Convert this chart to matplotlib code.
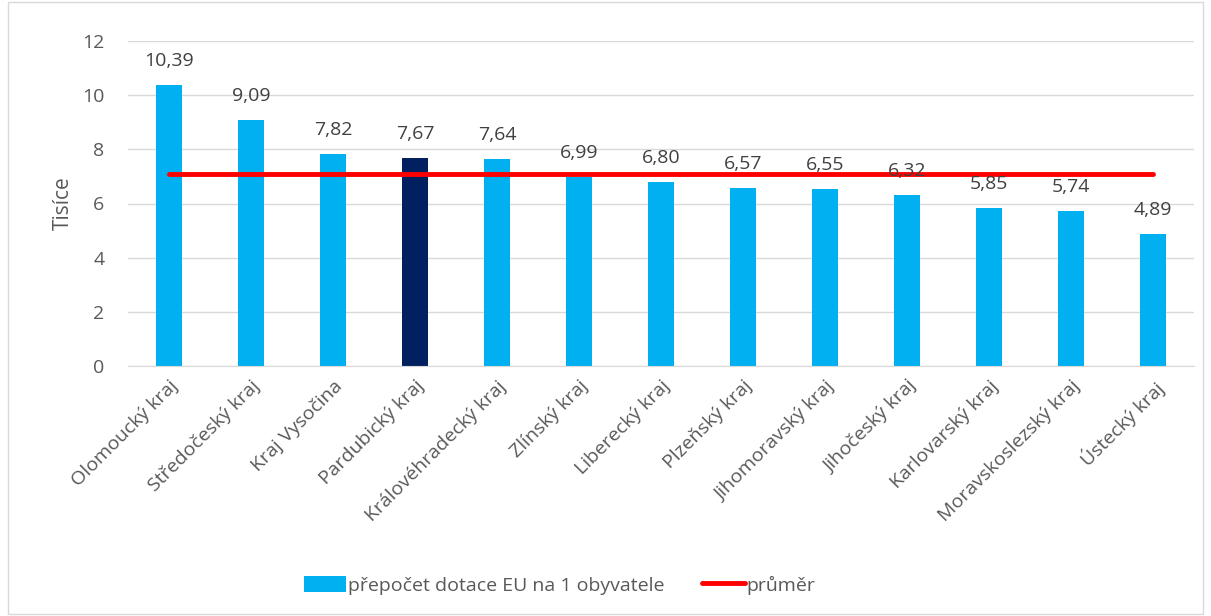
import matplotlib
matplotlib.use("Agg")
import matplotlib.pyplot as plt
from matplotlib.patches import Rectangle

categories = ["Olomoucký kraj", "Středočeský kraj", "Kraj Vysočina", "Pardubický kraj",
              "Královéhradecký kraj", "Zlínský kraj", "Liberecký kraj", "Plzeňský kraj",
              "Jihomoravský kraj", "Jihočeský kraj", "Karlovarský kraj",
              "Moravskoslezský kraj", "Ústecký kraj"]
values = [10.39, 9.09, 7.82, 7.67, 7.64, 6.99, 6.80, 6.57, 6.55, 6.32, 5.85, 5.74, 4.89]
average = [7.10] * len(categories)
labels = ["10,39", "9,09", "7,82", "7,67", "7,64", "6,99", "6,80", "6,57", "6,55",
          "6,32", "5,85", "5,74", "4,89"]
highlight = "Pardubický kraj"

plt.rcParams['font.family'] = ['Open Sans', 'DejaVu Sans']
TXT = "#595959"

fig = plt.figure(figsize=(12.11, 6.16), dpi=100)
ax = fig.add_axes([128/1211, 1-366/616, (1194-128)/1211, (366-41)/616])

x = list(range(len(categories)))
colors = ["#002060" if c == highlight else "#00B0F0" for c in categories]
bars = ax.bar(x, values, width=0.32, color=colors, zorder=2,
              label="přepočet dotace EU na 1 obyvatele")
line, = ax.plot(x, average, color="#FF0000", lw=3.5, solid_capstyle="round", zorder=3,
                label="průměr")

for xi, v, lab in zip(x, values, labels):
    ax.text(xi, v + 0.55, lab, ha="center", va="bottom", fontsize=14, color="#404040")

ax.set_xlim(-0.5, len(categories) - 0.5)
ax.set_ylim(0, 12)
ax.set_yticks(range(0, 13, 2))
ax.yaxis.grid(True, color="#D9D9D9", lw=1, zorder=0)
ax.set_axisbelow(True)
for s in ["top", "right", "left"]:
    ax.spines[s].set_visible(False)
ax.spines["bottom"].set_color("#D9D9D9")
ax.tick_params(axis="both", length=0, labelsize=14, labelcolor=TXT)
ax.tick_params(axis="y", pad=17)
ax.set_xticks(x)
ax.set_xticklabels(categories, rotation=45, ha="right", rotation_mode="anchor")
ax.tick_params(axis="x", pad=8)
ax.set_ylabel("Tisíce", fontsize=15, color=TXT, labelpad=6)

leg = fig.legend([bars, line], ["přepočet dotace EU na 1 obyvatele", "průměr"],
                 loc="center", bbox_to_anchor=(0.462, 1-585/616), ncol=2, frameon=False,
                 fontsize=14, labelcolor=TXT, handlelength=2.2, handletextpad=0.1,
                 columnspacing=1.9, handleheight=0.9)

fig.patches.append(Rectangle((8/1211, 2/616), 1-16/1211, 1-4/616, transform=fig.transFigure,
                             fill=False, edgecolor="#D9D9D9", lw=1))
fig.savefig("out.png", dpi=100, facecolor="white")
